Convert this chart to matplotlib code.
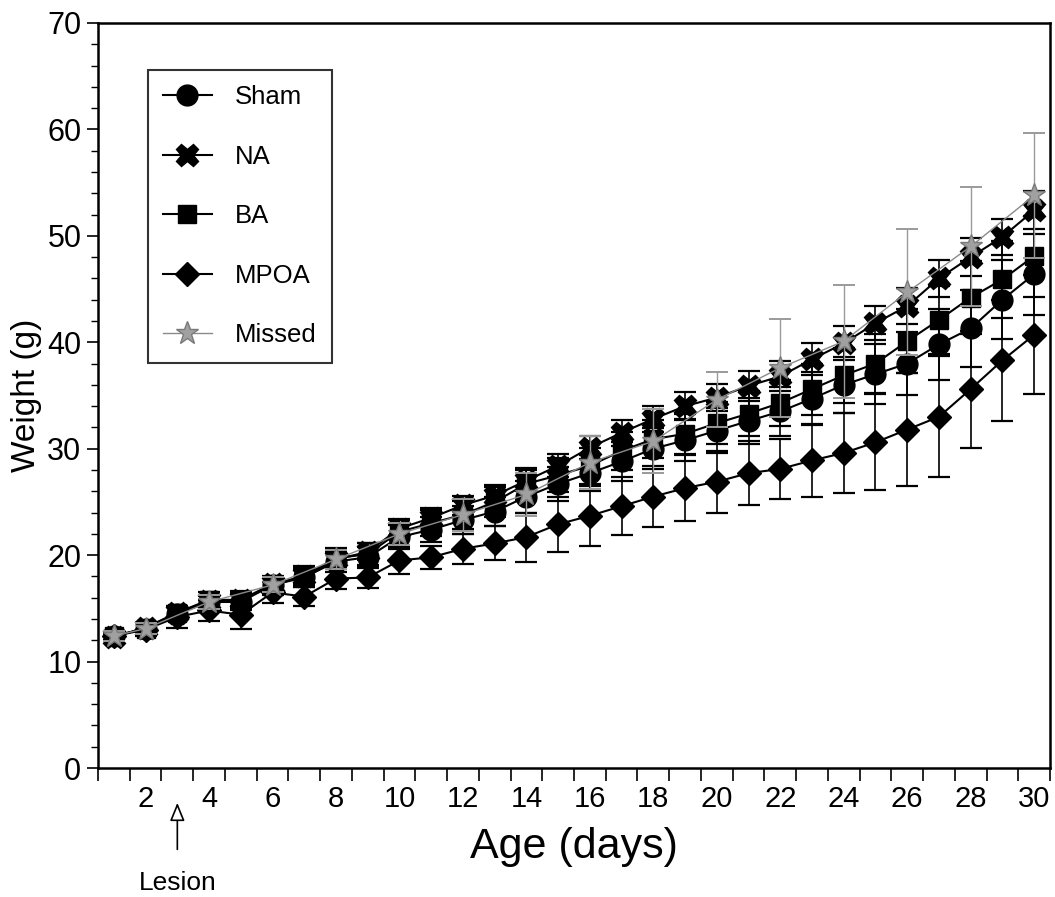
import matplotlib
matplotlib.use("Agg")
import matplotlib.pyplot as plt
from matplotlib.ticker import MultipleLocator, FixedLocator
from matplotlib.lines import Line2D
import numpy as np

days = list(range(1, 31))

sham = [12.4, 13.1, 14.5, 15.6, 15.6, 17.2, 17.9, 19.4, 19.8, 21.7, 22.4, 23.3, 24.1, 25.5, 26.7,
        27.7, 28.8, 30.0, 30.8, 31.7, 32.6, 33.5, 34.7, 36.0, 37.0, 38.0, 39.8, 41.3, 44.0, 46.4]
sham_err = [0.4, 0.5, 0.6, 0.7, 0.8, 0.8, 0.9, 1.0, 1.0, 1.1, 1.2, 1.3, 1.4, 1.5, 1.6,
            1.7, 1.8, 1.9, 2.0, 2.1, 2.2, 2.3, 2.5, 2.6, 2.8, 3.0, 3.3, 3.6, 3.7, 3.8]

na = [12.3, 13.2, 14.6, 15.7, 15.8, 17.3, 18.0, 19.6, 20.3, 22.5, 23.5, 24.7, 25.6, 27.0, 28.4,
      30.1, 31.5, 32.8, 34.0, 34.8, 35.9, 36.8, 38.4, 39.9, 41.8, 43.4, 46.0, 48.0, 49.9, 52.4]
na_err = [0.3, 0.4, 0.5, 0.5, 0.6, 0.6, 0.7, 0.7, 0.8, 0.8, 0.9, 0.9, 1.0, 1.0, 1.1,
          1.1, 1.2, 1.2, 1.3, 1.3, 1.4, 1.4, 1.5, 1.6, 1.6, 1.7, 1.7, 1.8, 1.7, 1.8]

ba = [12.4, 13.1, 14.6, 15.8, 15.8, 17.1, 18.1, 19.7, 20.1, 22.2, 23.0, 23.8, 25.0, 26.7, 27.5,
      28.4, 29.8, 30.9, 31.4, 32.4, 33.3, 34.3, 35.6, 36.9, 38.0, 40.1, 42.1, 44.2, 45.9, 48.1]
ba_err = [0.4, 0.5, 0.6, 0.7, 0.8, 0.8, 0.9, 1.0, 1.0, 1.2, 1.2, 1.3, 1.4, 1.5, 1.6,
          1.7, 1.8, 1.8, 1.9, 2.0, 2.1, 2.2, 2.4, 2.6, 2.8, 3.0, 3.2, 3.4, 3.6, 3.8]

mpoa = [12.4, 13.0, 14.2, 14.8, 14.4, 16.5, 16.1, 17.8, 17.9, 19.5, 19.8, 20.6, 21.1, 21.7, 22.9,
        23.7, 24.6, 25.5, 26.3, 26.9, 27.7, 28.1, 28.9, 29.6, 30.6, 31.8, 33.0, 35.6, 38.3, 40.7]
mpoa_err = [0.5, 0.6, 1.0, 1.0, 1.3, 1.0, 0.9, 1.0, 1.0, 1.3, 1.1, 1.4, 1.6, 2.3, 2.6,
            2.8, 2.7, 2.9, 3.1, 2.9, 3.0, 2.8, 3.4, 3.8, 4.5, 5.3, 5.7, 5.5, 5.7, 5.6]

missed_days = [1, 2, 4, 6, 8, 10, 12, 14, 16, 18, 20, 22, 24, 26, 28, 30]
missed = [12.4, 13.1, 15.6, 17.2, 19.6, 22.0, 23.8, 25.7, 28.7, 30.7, 34.6, 37.6, 40.1, 44.7, 49.0, 53.8]
missed_err = [0.5, 0.5, 0.7, 0.7, 0.9, 1.0, 1.5, 2.0, 2.5, 3.0, 2.6, 4.6, 5.3, 5.9, 5.6, 5.9]

xtick_labels = [str(d) for d in range(2, 31, 2)]

plt.rcParams['font.family'] = ['Liberation Sans', 'DejaVu Sans']

fig = plt.figure(figsize=(10.55, 8.97), dpi=100)
ax = fig.add_axes([98 / 1055, 1 - 768 / 897, 952 / 1055, 745 / 897])

common = dict(color='black', ecolor='black', elinewidth=1.2, capsize=8, capthick=1.6,
              linewidth=1.5, markeredgecolor='black', markerfacecolor='black')

styles = {
    'Sham': dict(marker='o', markersize=15),
    'NA': dict(marker='X', markersize=16),
    'BA': dict(marker='s', markersize=13.5),
    'MPOA': dict(marker='D', markersize=12),
}

ax.errorbar(days, mpoa, yerr=mpoa_err, zorder=3, **styles['MPOA'], **common)
ax.errorbar(days, sham, yerr=sham_err, zorder=4, **styles['Sham'], **common)
ax.errorbar(days, ba, yerr=ba_err, zorder=5, **styles['BA'], **common)
ax.errorbar(days, na, yerr=na_err, zorder=6, **styles['NA'], **common)
missed_style = dict(marker='*', markersize=17, color='#8a8a8a', linewidth=1.0,
                    markeredgecolor='#7a7a7a', markerfacecolor='#a0a0a0')
ax.errorbar(missed_days, missed, yerr=missed_err, ecolor='#9a9a9a', elinewidth=1.0, capsize=8,
            capthick=1.4, zorder=7, **missed_style)

ax.set_xlim(0.5, 30.5)
ax.set_ylim(0, 70)

ax.xaxis.set_major_locator(FixedLocator(list(range(2, 31, 2))))
ax.set_xticklabels(xtick_labels, fontsize=21)
ax.xaxis.set_minor_locator(FixedLocator([d + 0.5 for d in range(0, 31)]))
ax.tick_params(axis='x', which='major', length=0, pad=12)
ax.tick_params(axis='x', which='minor', length=9, width=1.2, direction='out')

ax.yaxis.set_major_locator(MultipleLocator(10))
ax.yaxis.set_minor_locator(MultipleLocator(2))
ax.tick_params(axis='y', which='major', length=8, width=1.2, labelsize=22, direction='out', pad=4)
ax.tick_params(axis='y', which='minor', length=5, width=1.0, direction='out')

for s in ax.spines.values():
    s.set_linewidth(1.8)

ax.set_xlabel('Age (days)', fontsize=31, labelpad=10)
ax.set_ylabel('Weight (g)', fontsize=24, labelpad=4)

order = ['Sham', 'NA', 'BA', 'MPOA', 'Missed']
handles = [Line2D([], [], color='black', linewidth=1.5, markeredgecolor='black',
                  markerfacecolor='black', **styles[k]) for k in order[:4]]
handles.append(Line2D([], [], **missed_style))
leg = ax.legend(handles, order, loc='upper left',
                bbox_to_anchor=(0.052, 0.937), fontsize=18.5, frameon=True, fancybox=False,
                edgecolor='black', labelspacing=1.38, handlelength=1.9, borderpad=0.6,
                handletextpad=0.9, borderaxespad=0)
leg.get_frame().set_linewidth(1.5)

ax.annotate('', xy=(3, -0.043), xycoords=('data', 'axes fraction'),
            xytext=(3, -0.113), textcoords=('data', 'axes fraction'),
            arrowprops=dict(arrowstyle='-|>,head_length=1.1,head_width=0.45', facecolor='white',
                            edgecolor='black', linewidth=1.2), annotation_clip=False)
ax.text(3, -0.155, 'Lesion', transform=ax.get_xaxis_transform(), ha='center', va='center',
        fontsize=19)

fig.savefig('out.png', dpi=100)
